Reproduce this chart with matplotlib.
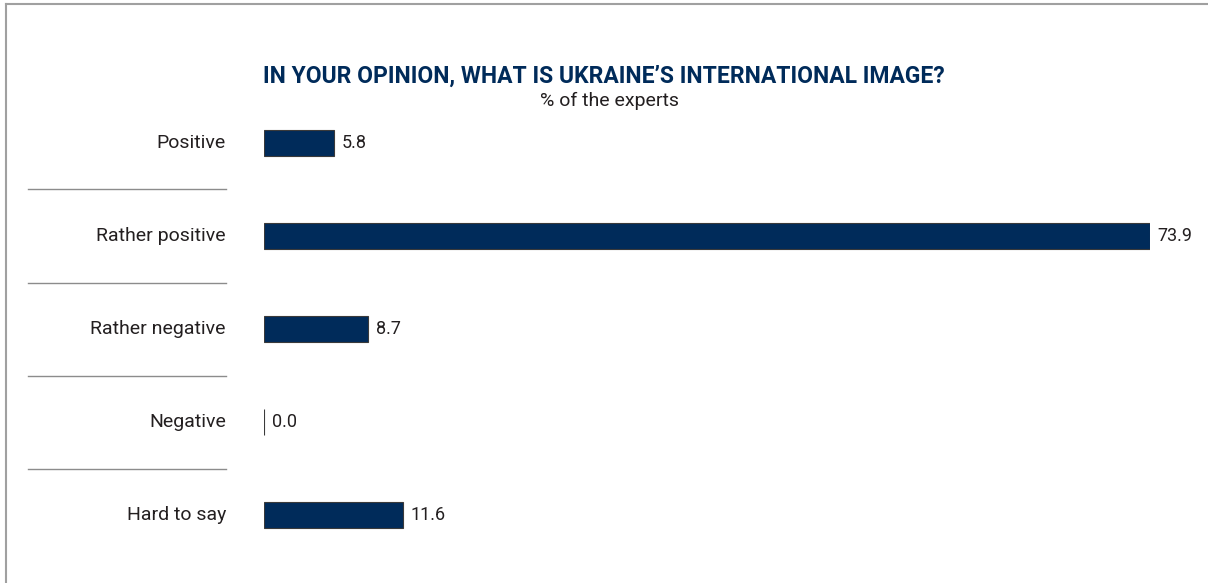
import matplotlib
matplotlib.use("Agg")
import matplotlib.pyplot as plt
import matplotlib.transforms as mtransforms
from matplotlib.lines import Line2D

categories = ["Positive", "Rather positive", "Rather negative", "Negative", "Hard to say"]
values = [5.8, 73.9, 8.7, 0.0, 11.6]

title = "IN YOUR OPINION, WHAT IS UKRAINE\u2019S INTERNATIONAL IMAGE?"
subtitle = "% of the experts"

navy = "#002b5a"
text_col = "#231f20"

plt.rcParams["font.family"] = ["Roboto", "DejaVu Sans"]

W, H = 1208, 583
fig = plt.figure(figsize=(W / 100, H / 100), dpi=100)

# plotting area in pixel terms
x0, x1 = 264, 1150
y_top, y_bot = 96.5, 561.5
ax = fig.add_axes([x0 / W, 1 - y_bot / H, (x1 - x0) / W, (y_bot - y_top) / H])
ax.set_xlim(0, max(values))
ax.set_ylim(len(values) - 0.5, -0.5)
ax.axis("off")

pos = range(len(values))
ax.barh(pos, values, height=0.29, color=navy, edgecolor="#3a3a3a", linewidth=0.8)

for i, v in zip(pos, values):
    ax.annotate(f"{v:.1f}", (v, i), xytext=(5.5, 0), textcoords="offset points",
                va="center", ha="left", fontsize=13, color=text_col)

# category labels and separators to the left of the bars
trans = mtransforms.blended_transform_factory(fig.transFigure, ax.transData)
for i, name in enumerate(categories):
    fig.text(226 / W, i, name, transform=trans, ha="right", va="center",
             fontsize=14, color=text_col)
for i in range(len(categories) - 1):
    fig.add_artist(Line2D([28 / W, 226 / W], [i + 0.5, i + 0.5], transform=trans,
                          color="#8c8c8c", linewidth=1))

fig.text(604 / W, 1 - 76 / H, title, ha="center", va="center", fontsize=16.5,
         fontweight="bold", color=navy)
fig.text(609 / W, 1 - 101 / H, subtitle, ha="center", va="center", fontsize=14,
         color=text_col)

# frame along top and left edge
fig.add_artist(Line2D([6 / W, 1], [1 - 3.5 / H, 1 - 3.5 / H], color="#a0a0a0", linewidth=1.5))
fig.add_artist(Line2D([6 / W, 6 / W], [0, 1 - 3.5 / H], color="#a0a0a0", linewidth=1.5))

fig.savefig("out.png", dpi=100, facecolor="white")
